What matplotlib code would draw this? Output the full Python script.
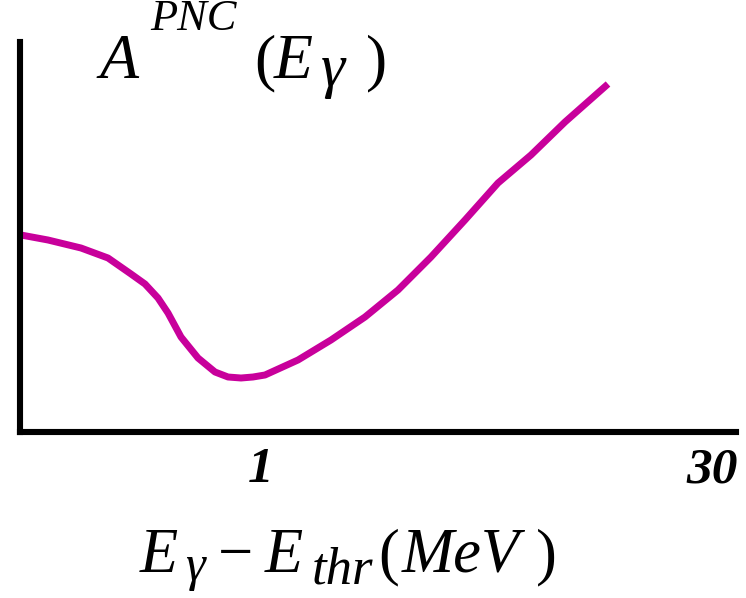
import matplotlib
matplotlib.use("Agg")
import matplotlib.pyplot as plt

# curve sampled along E_gamma - E_thr (arbitrary plot units)
energy = [1, 28, 61, 88, 111, 125, 138, 148, 161, 178, 195, 208, 221, 233,
          245, 278, 311, 345, 378, 411, 445, 478, 511, 545, 588]
asymmetry = [197, 192, 184, 174, 158, 148, 134, 119, 95, 74, 60, 55, 54, 55,
             57, 72, 92, 115, 142, 175, 212, 249, 277, 310, 348]

tick_pos = [241, 692]
tick_labels = ["1", "30"]

W, H = 746, 598
SERIF = "Liberation Serif"

fig = plt.figure(figsize=(W / 100, H / 100), dpi=100)
ax = fig.add_axes([20 / W, (H - 432) / H, (736 - 20) / W, (432 - 42) / H])

ax.plot(energy, asymmetry, color="#c8009b", linewidth=5,
        solid_capstyle="butt", solid_joinstyle="round")
ax.set_xlim(0, 716)
ax.set_ylim(0, 390)

for side in ("top", "right"):
    ax.spines[side].set_visible(False)
for side in ("left", "bottom"):
    ax.spines[side].set_linewidth(4.4)
    ax.spines[side].set_capstyle("projecting")

ax.set_yticks([])
ax.set_xticks(tick_pos)
ax.set_xticklabels(tick_labels, family=SERIF, fontsize=37,
                   fontweight="bold", fontstyle="italic")
ax.tick_params(axis="x", length=0, pad=11)


def put(x, base, s, size, italic=True):
    # place a text piece by its left edge and baseline, in pixels from top-left
    fig.text(x / W, 1 - base / H, s, family=SERIF, fontsize=size,
             fontstyle="italic" if italic else "normal",
             ha="left", va="baseline")


# A^PNC(E_gamma)
put(100, 78, "A", 46)
put(150, 30, "PNC", 32)
put(254, 78, "(", 46, italic=False)
put(274, 78, "E", 46)
put(321, 86, "\u03b3", 44)
put(366, 78, ")", 46, italic=False)

# E_gamma - E_thr (MeV)
put(140, 572, "E", 45)
put(185, 580, "\u03b3", 36)
put(218, 572, "\u2212", 45, italic=False)
put(265, 572, "E", 45)
put(312, 584, "thr", 38)
put(378, 572, "(", 45, italic=False)
put(402, 572, "MeV", 45)
put(536, 572, ")", 45, italic=False)

fig.savefig("out.png", dpi=100)
